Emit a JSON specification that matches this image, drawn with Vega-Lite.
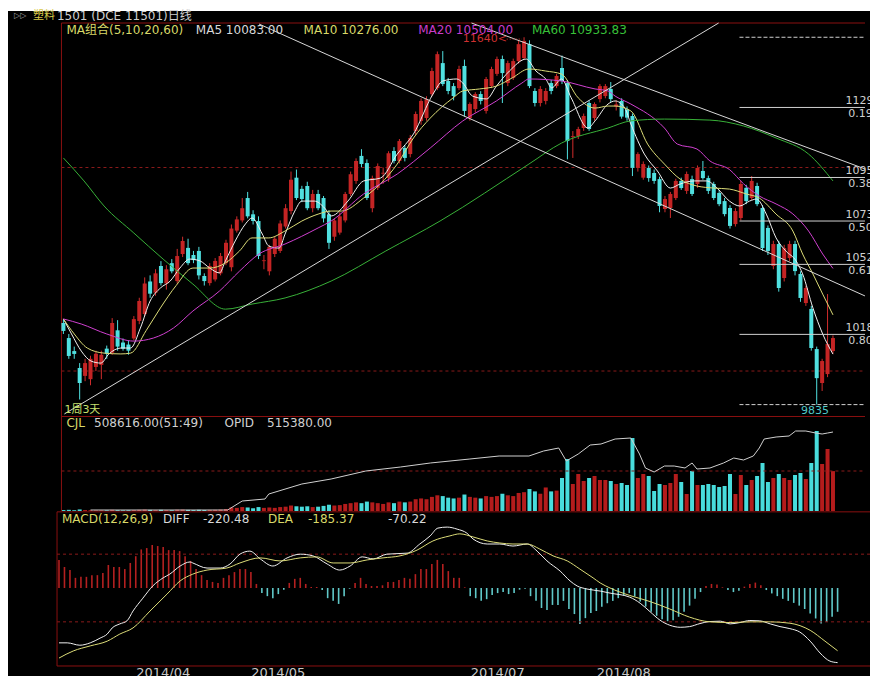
{
"$schema":"https://vega.github.io/schema/vega-lite/v6.json",
"background":"#ffffff",
"padding":{"left":8,"top":10,"right":0,"bottom":0},
"autosize":{"type":"pad"},
"spacing":0,
"bounds":"flush",
"config":{
 "view":{"stroke":null,"fill":"#000000"},
 "font":"DejaVu Sans, Noto Sans CJK SC",
 "axis":{"domain":false,"ticks":false,"tickSize":0,"grid":false,"labelColor":"#c8c8c8","labelFont":"DejaVu Sans, Noto Sans CJK SC","labelFontSize":11,"labelFlush":false},
 "text":{"font":"DejaVu Sans, Noto Sans CJK SC"}
},
"datasets":{
"k":[
{"i":0,"o":10236,"h":10255,"l":10182,"c":10197,"v":12000,"m":83},
{"i":1,"o":10162,"h":10182,"l":10060,"c":10074,"v":15000,"m":62},
{"i":2,"o":10098,"h":10120,"l":10060,"c":10084,"v":10000,"m":53},
{"i":3,"o":10015,"h":10039,"l":9860,"c":9941,"v":20000,"m":30},
{"i":4,"o":9976,"h":10060,"l":9950,"c":10039,"v":12000,"m":33},
{"i":5,"o":9960,"h":10075,"l":9930,"c":10060,"v":10000,"m":33},
{"i":6,"o":10020,"h":10100,"l":10000,"c":10085,"v":8000,"m":38},
{"i":7,"o":10030,"h":10100,"l":9960,"c":10080,"v":9000,"m":38},
{"i":8,"o":10110,"h":10125,"l":10060,"c":10085,"v":8000,"m":44},
{"i":9,"o":10090,"h":10260,"l":10080,"c":10236,"v":15000,"m":68},
{"i":10,"o":10200,"h":10250,"l":10100,"c":10120,"v":10000,"m":62},
{"i":11,"o":10140,"h":10160,"l":10100,"c":10110,"v":8000,"m":62},
{"i":12,"o":10130,"h":10150,"l":10080,"c":10100,"v":9000,"m":56},
{"i":13,"o":10160,"h":10270,"l":10150,"c":10255,"v":12000,"m":74},
{"i":14,"o":10246,"h":10360,"l":10230,"c":10344,"v":15000,"m":94},
{"i":15,"o":10280,"h":10460,"l":10270,"c":10430,"v":18000,"m":114},
{"i":16,"o":10440,"h":10470,"l":10360,"c":10380,"v":14000,"m":118},
{"i":17,"o":10385,"h":10500,"l":10370,"c":10480,"v":12000,"m":127},
{"i":18,"o":10516,"h":10540,"l":10420,"c":10432,"v":15000,"m":124},
{"i":19,"o":10430,"h":10520,"l":10400,"c":10500,"v":12000,"m":121},
{"i":20,"o":10530,"h":10550,"l":10480,"c":10490,"v":10000,"m":112},
{"i":21,"o":10442,"h":10600,"l":10430,"c":10565,"v":16000,"m":112},
{"i":22,"o":10575,"h":10660,"l":10560,"c":10639,"v":18000,"m":109},
{"i":23,"o":10605,"h":10650,"l":10520,"c":10530,"v":14000,"m":94},
{"i":24,"o":10570,"h":10590,"l":10530,"c":10545,"v":12000,"m":80},
{"i":25,"o":10590,"h":10610,"l":10450,"c":10470,"v":15000,"m":56},
{"i":26,"o":10467,"h":10480,"l":10420,"c":10442,"v":13000,"m":38},
{"i":27,"o":10432,"h":10530,"l":10420,"c":10516,"v":14000,"m":24},
{"i":28,"o":10450,"h":10555,"l":10440,"c":10541,"v":15000,"m":18},
{"i":29,"o":10480,"h":10580,"l":10470,"c":10565,"v":18000,"m":15},
{"i":30,"o":10530,"h":10645,"l":10520,"c":10630,"v":25000,"m":30},
{"i":31,"o":10510,"h":10720,"l":10490,"c":10700,"v":45000,"m":38},
{"i":32,"o":10690,"h":10760,"l":10680,"c":10745,"v":40000,"m":47},
{"i":33,"o":10740,"h":10850,"l":10730,"c":10800,"v":50000,"m":56},
{"i":34,"o":10850,"h":10880,"l":10750,"c":10760,"v":45000,"m":56},
{"i":35,"o":10770,"h":10790,"l":10720,"c":10737,"v":35000,"m":47},
{"i":36,"o":10737,"h":10760,"l":10550,"c":10565,"v":50000,"m":12},
{"i":37,"o":10540,"h":10570,"l":10500,"c":10544,"v":40000,"m":-15},
{"i":38,"o":10490,"h":10620,"l":10470,"c":10610,"v":45000,"m":-24},
{"i":39,"o":10575,"h":10660,"l":10560,"c":10650,"v":40000,"m":-30},
{"i":40,"o":10590,"h":10740,"l":10580,"c":10725,"v":50000,"m":-18},
{"i":41,"o":10710,"h":10820,"l":10700,"c":10800,"v":55000,"m":-5},
{"i":42,"o":10786,"h":10980,"l":10770,"c":10940,"v":70000,"m":15},
{"i":43,"o":10950,"h":10990,"l":10840,"c":10850,"v":60000,"m":27},
{"i":44,"o":10895,"h":10910,"l":10830,"c":10845,"v":55000,"m":30},
{"i":45,"o":10909,"h":10930,"l":10790,"c":10800,"v":60000,"m":12},
{"i":46,"o":10800,"h":10890,"l":10780,"c":10870,"v":50000,"m":3},
{"i":47,"o":10870,"h":10890,"l":10790,"c":10800,"v":55000,"m":3},
{"i":48,"o":10850,"h":10860,"l":10730,"c":10750,"v":65000,"m":-6},
{"i":49,"o":10770,"h":10790,"l":10600,"c":10630,"v":80000,"m":-30},
{"i":50,"o":10660,"h":10750,"l":10640,"c":10740,"v":70000,"m":-38},
{"i":51,"o":10680,"h":10780,"l":10670,"c":10760,"v":75000,"m":-47},
{"i":52,"o":10740,"h":10880,"l":10730,"c":10870,"v":90000,"m":-24},
{"i":53,"o":10870,"h":10980,"l":10860,"c":10967,"v":100000,"m":-2},
{"i":54,"o":10934,"h":11045,"l":10920,"c":11032,"v":110000,"m":15},
{"i":55,"o":11057,"h":11090,"l":11000,"c":11017,"v":100000,"m":30},
{"i":56,"o":11022,"h":11040,"l":10840,"c":10850,"v":120000,"m":12},
{"i":57,"o":10800,"h":10960,"l":10780,"c":10948,"v":110000,"m":6},
{"i":58,"o":10900,"h":11020,"l":10890,"c":11007,"v":100000,"m":6},
{"i":59,"o":10970,"h":11000,"l":10920,"c":10974,"v":90000,"m":8},
{"i":60,"o":10948,"h":11080,"l":10930,"c":11070,"v":110000,"m":18},
{"i":61,"o":11081,"h":11100,"l":11020,"c":11032,"v":100000,"m":18},
{"i":62,"o":11032,"h":11140,"l":11020,"c":11130,"v":120000,"m":24},
{"i":63,"o":11096,"h":11110,"l":11030,"c":11047,"v":110000,"m":30},
{"i":64,"o":11066,"h":11160,"l":11050,"c":11145,"v":120000,"m":27},
{"i":65,"o":11179,"h":11275,"l":11160,"c":11263,"v":150000,"m":41},
{"i":66,"o":11229,"h":11340,"l":11210,"c":11327,"v":160000,"m":56},
{"i":67,"o":11243,"h":11350,"l":11230,"c":11336,"v":150000,"m":56},
{"i":68,"o":11360,"h":11490,"l":11350,"c":11474,"v":180000,"m":71},
{"i":69,"o":11390,"h":11570,"l":11380,"c":11557,"v":200000,"m":83},
{"i":70,"o":11513,"h":11572,"l":11400,"c":11410,"v":190000,"m":71},
{"i":71,"o":11425,"h":11440,"l":11360,"c":11376,"v":170000,"m":50},
{"i":72,"o":11400,"h":11415,"l":11330,"c":11351,"v":160000,"m":30},
{"i":73,"o":11390,"h":11500,"l":11380,"c":11484,"v":170000,"m":30},
{"i":74,"o":11499,"h":11530,"l":11250,"c":11278,"v":210000,"m":2},
{"i":75,"o":11243,"h":11320,"l":11230,"c":11312,"v":180000,"m":-24},
{"i":76,"o":11287,"h":11370,"l":11270,"c":11361,"v":170000,"m":-30},
{"i":77,"o":11361,"h":11375,"l":11310,"c":11327,"v":160000,"m":-38},
{"i":78,"o":11278,"h":11445,"l":11265,"c":11435,"v":190000,"m":-33},
{"i":79,"o":11400,"h":11495,"l":11390,"c":11484,"v":180000,"m":-21},
{"i":80,"o":11460,"h":11545,"l":11450,"c":11533,"v":190000,"m":-15},
{"i":81,"o":11533,"h":11550,"l":11317,"c":11464,"v":220000,"m":-12},
{"i":82,"o":11415,"h":11525,"l":11400,"c":11513,"v":200000,"m":-18},
{"i":83,"o":11440,"h":11535,"l":11430,"c":11523,"v":190000,"m":-15},
{"i":84,"o":11523,"h":11625,"l":11510,"c":11606,"v":230000,"m":-5},
{"i":85,"o":11538,"h":11640,"l":11530,"c":11622,"v":240000,"m":-2},
{"i":86,"o":11607,"h":11625,"l":11390,"c":11400,"v":280000,"m":-24},
{"i":87,"o":11376,"h":11390,"l":11300,"c":11317,"v":250000,"m":-38},
{"i":88,"o":11317,"h":11400,"l":11300,"c":11386,"v":220000,"m":-59},
{"i":89,"o":11327,"h":11390,"l":11310,"c":11376,"v":300000,"m":-65},
{"i":90,"o":11415,"h":11430,"l":11360,"c":11376,"v":250000,"m":-50},
{"i":91,"o":11400,"h":11460,"l":11390,"c":11450,"v":260000,"m":-50},
{"i":92,"o":11489,"h":11550,"l":11410,"c":11425,"v":420750,"m":-38},
{"i":93,"o":11415,"h":11430,"l":11040,"c":11130,"v":663000,"m":-62},
{"i":94,"o":11150,"h":11179,"l":11047,"c":11154,"v":344250,"m":-77},
{"i":95,"o":11155,"h":11200,"l":11140,"c":11189,"v":471750,"m":-106},
{"i":96,"o":11194,"h":11265,"l":11180,"c":11253,"v":382500,"m":-89},
{"i":97,"o":11317,"h":11330,"l":11180,"c":11189,"v":420750,"m":-74},
{"i":98,"o":11243,"h":11320,"l":11230,"c":11312,"v":446250,"m":-68},
{"i":99,"o":11336,"h":11410,"l":11320,"c":11400,"v":395250,"m":-55},
{"i":100,"o":11351,"h":11410,"l":11340,"c":11400,"v":395250,"m":-45},
{"i":101,"o":11386,"h":11420,"l":11320,"c":11336,"v":382500,"m":-38},
{"i":102,"o":11300,"h":11330,"l":11280,"c":11310,"v":344250,"m":-30},
{"i":103,"o":11327,"h":11340,"l":11240,"c":11250,"v":357000,"m":-22},
{"i":104,"o":11285,"h":11300,"l":11230,"c":11245,"v":331500,"m":-15},
{"i":105,"o":11253,"h":11265,"l":10958,"c":10998,"v":930750,"m":-25},
{"i":106,"o":10998,"h":11075,"l":10980,"c":11066,"v":420750,"m":-40},
{"i":107,"o":10950,"h":11030,"l":10940,"c":11017,"v":471750,"m":-55},
{"i":108,"o":10998,"h":11010,"l":10930,"c":10948,"v":446250,"m":-70},
{"i":109,"o":10973,"h":10990,"l":10920,"c":10934,"v":255000,"m":-82},
{"i":110,"o":10943,"h":10955,"l":10780,"c":10811,"v":344250,"m":-92},
{"i":111,"o":10796,"h":10860,"l":10780,"c":10845,"v":331500,"m":-98},
{"i":112,"o":10801,"h":10880,"l":10752,"c":10870,"v":357000,"m":-95},
{"i":113,"o":10850,"h":10945,"l":10840,"c":10934,"v":471750,"m":-85},
{"i":114,"o":10934,"h":10950,"l":10890,"c":10899,"v":369750,"m":-70},
{"i":115,"o":10885,"h":10980,"l":10870,"c":10968,"v":216750,"m":-52},
{"i":116,"o":10943,"h":10960,"l":10860,"c":10870,"v":510000,"m":-32},
{"i":117,"o":10919,"h":11010,"l":10900,"c":10998,"v":331500,"m":-12},
{"i":118,"o":10983,"h":11032,"l":10940,"c":10948,"v":331500,"m":6},
{"i":119,"o":10948,"h":10960,"l":10870,"c":10885,"v":344250,"m":12},
{"i":120,"o":10919,"h":10930,"l":10840,"c":10850,"v":331500,"m":10},
{"i":121,"o":10875,"h":10890,"l":10810,"c":10820,"v":306000,"m":2},
{"i":122,"o":10835,"h":10850,"l":10760,"c":10771,"v":318750,"m":-6},
{"i":123,"o":10801,"h":10815,"l":10700,"c":10713,"v":471750,"m":-12},
{"i":124,"o":10722,"h":10800,"l":10710,"c":10786,"v":216750,"m":-8},
{"i":125,"o":10752,"h":10935,"l":10740,"c":10919,"v":459000,"m":4},
{"i":126,"o":10900,"h":10915,"l":10820,"c":10835,"v":331500,"m":12},
{"i":127,"o":10850,"h":10958,"l":10840,"c":10934,"v":395250,"m":16},
{"i":128,"o":10909,"h":10925,"l":10810,"c":10820,"v":446250,"m":8},
{"i":129,"o":10801,"h":10815,"l":10590,"c":10604,"v":612000,"m":-6},
{"i":130,"o":10703,"h":10715,"l":10570,"c":10590,"v":369750,"m":-16},
{"i":131,"o":10516,"h":10640,"l":10500,"c":10624,"v":420750,"m":-24},
{"i":132,"o":10624,"h":10640,"l":10390,"c":10408,"v":471750,"m":-32},
{"i":133,"o":10457,"h":10620,"l":10440,"c":10604,"v":420750,"m":-38},
{"i":134,"o":10555,"h":10640,"l":10540,"c":10624,"v":395250,"m":-44},
{"i":135,"o":10624,"h":10640,"l":10470,"c":10491,"v":459000,"m":-52},
{"i":136,"o":10477,"h":10490,"l":10340,"c":10359,"v":484500,"m":-62},
{"i":137,"o":10334,"h":10420,"l":10320,"c":10408,"v":408000,"m":-75},
{"i":138,"o":10305,"h":10320,"l":10100,"c":10113,"v":612000,"m":-90},
{"i":139,"o":10108,"h":10120,"l":9835,"c":9965,"v":1020000,"m":-105},
{"i":140,"o":9941,"h":10060,"l":9902,"c":10049,"v":599250,"m":-100},
{"i":141,"o":9985,"h":10378,"l":9970,"c":10133,"v":790500,"m":-85},
{"i":142,"o":10098,"h":10175,"l":10085,"c":10162,"v":508616,"m":-70.22}
],
"ma":[
{"s":"MA5","i":0,"p":10256},{"s":"MA5","i":1.5,"p":10182},{"s":"MA5","i":3.3,"p":10098},{"s":"MA5","i":5.1,"p":10049},{"s":"MA5","i":6.9,"p":10039},{"s":"MA5","i":8.4,"p":10084},{"s":"MA5","i":10.6,"p":10113},{"s":"MA5","i":12.4,"p":10113},{"s":"MA5","i":14.2,"p":10211},{"s":"MA5","i":16,"p":10344},{"s":"MA5","i":17.9,"p":10408},{"s":"MA5","i":19.7,"p":10442},{"s":"MA5","i":21.5,"p":10506},{"s":"MA5","i":23.3,"p":10550},{"s":"MA5","i":25.2,"p":10541},{"s":"MA5","i":27,"p":10506},{"s":"MA5","i":28.8,"p":10482},{"s":"MA5","i":29.9,"p":10541},{"s":"MA5","i":31.7,"p":10639},{"s":"MA5","i":33.6,"p":10723},{"s":"MA5","i":34.8,"p":10752},{"s":"MA5","i":36.7,"p":10673},{"s":"MA5","i":37.9,"p":10614},{"s":"MA5","i":39.8,"p":10604},{"s":"MA5","i":40.9,"p":10673},{"s":"MA5","i":42.7,"p":10786},{"s":"MA5","i":44,"p":10835},{"s":"MA5","i":46.3,"p":10835},{"s":"MA5","i":48.2,"p":10801},{"s":"MA5","i":49.4,"p":10762},{"s":"MA5","i":52.5,"p":10835},{"s":"MA5","i":55.4,"p":10934},{"s":"MA5","i":58.5,"p":10948},{"s":"MA5","i":61.6,"p":11066},{"s":"MA5","i":64.6,"p":11165},{"s":"MA5","i":68.2,"p":11361},{"s":"MA5","i":70,"p":11425},{"s":"MA5","i":72.6,"p":11435},{"s":"MA5","i":73.7,"p":11415},{"s":"MA5","i":75.5,"p":11351},{"s":"MA5","i":78.1,"p":11337},{"s":"MA5","i":79.9,"p":11400},{"s":"MA5","i":82.3,"p":11474},{"s":"MA5","i":85.4,"p":11533},{"s":"MA5","i":87.2,"p":11474},{"s":"MA5","i":89,"p":11435},{"s":"MA5","i":90.1,"p":11391},{"s":"MA5","i":91.9,"p":11435},{"s":"MA5","i":93.7,"p":11342},{"s":"MA5","i":96.8,"p":11194},{"s":"MA5","i":98.1,"p":11229},{"s":"MA5","i":100.5,"p":11312},{"s":"MA5","i":101.8,"p":11327},{"s":"MA5","i":103.6,"p":11292},{"s":"MA5","i":104.7,"p":11214},{"s":"MA5","i":107.2,"p":11066},{"s":"MA5","i":109.6,"p":10983},{"s":"MA5","i":112,"p":10899},{"s":"MA5","i":113.8,"p":10919},{"s":"MA5","i":116.4,"p":10934},{"s":"MA5","i":118.7,"p":10934},{"s":"MA5","i":120.6,"p":10899},{"s":"MA5","i":122.9,"p":10835},{"s":"MA5","i":124.8,"p":10811},{"s":"MA5","i":126.6,"p":10835},{"s":"MA5","i":127.9,"p":10845},{"s":"MA5","i":129.7,"p":10771},{"s":"MA5","i":131.5,"p":10654},{"s":"MA5","i":133.3,"p":10590},{"s":"MA5","i":135.2,"p":10541},{"s":"MA5","i":136.4,"p":10477},{"s":"MA5","i":138.3,"p":10310},{"s":"MA5","i":140.1,"p":10182},{"s":"MA5","i":142,"p":10083},
{"s":"MA10","i":0,"p":10256},{"s":"MA10","i":2,"p":10182},{"s":"MA10","i":4.4,"p":10113},{"s":"MA10","i":7.5,"p":10088},{"s":"MA10","i":10.6,"p":10084},{"s":"MA10","i":12.4,"p":10088},{"s":"MA10","i":15.3,"p":10200},{"s":"MA10","i":17.9,"p":10310},{"s":"MA10","i":20.8,"p":10420},{"s":"MA10","i":23.9,"p":10506},{"s":"MA10","i":27,"p":10506},{"s":"MA10","i":29.9,"p":10531},{"s":"MA10","i":32.5,"p":10590},{"s":"MA10","i":34.8,"p":10654},{"s":"MA10","i":37.9,"p":10654},{"s":"MA10","i":40.9,"p":10688},{"s":"MA10","i":44,"p":10737},{"s":"MA10","i":47,"p":10771},{"s":"MA10","i":49.4,"p":10786},{"s":"MA10","i":51.3,"p":10786},{"s":"MA10","i":55.4,"p":10850},{"s":"MA10","i":61.6,"p":11017},{"s":"MA10","i":64.6,"p":11145},{"s":"MA10","i":67.7,"p":11243},{"s":"MA10","i":71.9,"p":11342},{"s":"MA10","i":73.7,"p":11376},{"s":"MA10","i":76.8,"p":11386},{"s":"MA10","i":79.9,"p":11400},{"s":"MA10","i":82.8,"p":11440},{"s":"MA10","i":85.9,"p":11484},{"s":"MA10","i":89,"p":11474},{"s":"MA10","i":91.9,"p":11459},{"s":"MA10","i":95,"p":11342},{"s":"MA10","i":98.1,"p":11292},{"s":"MA10","i":100.5,"p":11302},{"s":"MA10","i":101.8,"p":11302},{"s":"MA10","i":104.7,"p":11278},{"s":"MA10","i":107.8,"p":11115},{"s":"MA10","i":110.9,"p":11017},{"s":"MA10","i":113.8,"p":10943},{"s":"MA10","i":116.9,"p":10909},{"s":"MA10","i":120,"p":10899},{"s":"MA10","i":122.9,"p":10894},{"s":"MA10","i":126,"p":10870},{"s":"MA10","i":128.4,"p":10850},{"s":"MA10","i":131.5,"p":10771},{"s":"MA10","i":134.6,"p":10688},{"s":"MA10","i":136.4,"p":10575},{"s":"MA10","i":138.3,"p":10477},{"s":"MA10","i":140.1,"p":10378},{"s":"MA10","i":142,"p":10276},
{"s":"MA20","i":0,"p":10256},{"s":"MA20","i":3.3,"p":10231},{"s":"MA20","i":8,"p":10182},{"s":"MA20","i":13,"p":10147},{"s":"MA20","i":16.6,"p":10162},{"s":"MA20","i":20.3,"p":10211},{"s":"MA20","i":23.9,"p":10295},{"s":"MA20","i":28.8,"p":10393},{"s":"MA20","i":32.5,"p":10491},{"s":"MA20","i":36.1,"p":10575},{"s":"MA20","i":40.9,"p":10624},{"s":"MA20","i":47,"p":10703},{"s":"MA20","i":49.4,"p":10737},{"s":"MA20","i":55.4,"p":10870},{"s":"MA20","i":61.6,"p":10968},{"s":"MA20","i":67.7,"p":11096},{"s":"MA20","i":73.7,"p":11229},{"s":"MA20","i":79.9,"p":11327},{"s":"MA20","i":84.6,"p":11415},{"s":"MA20","i":85.9,"p":11435},{"s":"MA20","i":91.9,"p":11425},{"s":"MA20","i":98.1,"p":11386},{"s":"MA20","i":100.5,"p":11376},{"s":"MA20","i":101.8,"p":11351},{"s":"MA20","i":104.7,"p":11312},{"s":"MA20","i":110.9,"p":11194},{"s":"MA20","i":113.3,"p":11115},{"s":"MA20","i":116.9,"p":11091},{"s":"MA20","i":119.3,"p":11032},{"s":"MA20","i":122.9,"p":10990},{"s":"MA20","i":125.5,"p":10920},{"s":"MA20","i":128.4,"p":10860},{"s":"MA20","i":131.5,"p":10821},{"s":"MA20","i":134.6,"p":10772},{"s":"MA20","i":137.5,"p":10688},{"s":"MA20","i":140.1,"p":10575},{"s":"MA20","i":142,"p":10504},
{"s":"MA60","i":0,"p":11047},{"s":"MA60","i":3.8,"p":10934},{"s":"MA60","i":7.5,"p":10811},{"s":"MA60","i":13,"p":10678},{"s":"MA60","i":18.4,"p":10550},{"s":"MA60","i":23.9,"p":10427},{"s":"MA60","i":29.9,"p":10304},{"s":"MA60","i":34.8,"p":10329},{"s":"MA60","i":40.9,"p":10359},{"s":"MA60","i":49.4,"p":10442},{"s":"MA60","i":59.5,"p":10590},{"s":"MA60","i":69.5,"p":10737},{"s":"MA60","i":85.9,"p":11017},{"s":"MA60","i":91.9,"p":11120},{"s":"MA60","i":100.5,"p":11194},{"s":"MA60","i":104.7,"p":11229},{"s":"MA60","i":110.9,"p":11238},{"s":"MA60","i":119.3,"p":11233},{"s":"MA60","i":125.5,"p":11204},{"s":"MA60","i":131.5,"p":11145},{"s":"MA60","i":137.5,"p":11066},{"s":"MA60","i":142,"p":10934}
],
"tl":[
{"t":"A","i":36.1,"p":11705},{"t":"A","i":147.9,"p":10369},
{"t":"B","i":75.3,"p":11710},{"t":"B","i":147.9,"p":10993},
{"t":"C","i":0.18,"p":9789},{"t":"C","i":120.9,"p":11710}
],
"fib":[
{"r":"0.191","p":11295},{"r":"0.382","p":10951},{"r":"0.500","p":10737},{"r":"0.618","p":10524},{"r":"0.809","p":10180}
],
"fibe":[{"p":11640},{"p":9835}],
"oi":[
{"i":5,"oi":6524},{"i":30.3,"oi":6524},{"i":30.6,"oi":13048},{"i":33,"oi":65240},{"i":37.2,"oi":78288},{"i":37.9,"oi":110908},{"i":44,"oi":176148},{"i":49.4,"oi":208768},{"i":55.8,"oi":260960},{"i":62.2,"oi":287056},{"i":67.7,"oi":313152},{"i":75,"oi":339248},{"i":80.4,"oi":358820},{"i":85.9,"oi":358820},{"i":88.6,"oi":391440},{"i":91.4,"oi":411012},{"i":92.8,"oi":326200},{"i":95,"oi":371868},{"i":97.2,"oi":430584},{"i":99.2,"oi":437108},{"i":101.8,"oi":469728},{"i":104.7,"oi":476252},{"i":106.3,"oi":371868},{"i":107.4,"oi":280532},{"i":109,"oi":254436},{"i":110.9,"oi":293580},{"i":112.7,"oi":293580},{"i":114.7,"oi":280532},{"i":116,"oi":313152},{"i":116.9,"oi":274008},{"i":119.3,"oi":280532},{"i":121.8,"oi":313152},{"i":123.7,"oi":345772},{"i":125.5,"oi":332724},{"i":127.3,"oi":358820},{"i":128.4,"oi":411012},{"i":129.3,"oi":469728},{"i":131.5,"oi":482776},{"i":133.9,"oi":489300},{"i":135.1,"oi":521920},{"i":137,"oi":521920},{"i":138.8,"oi":508872},{"i":140,"oi":502348},{"i":141,"oi":508872},{"i":142,"oi":515380}
],
"ml":[
{"s":"DIFF","i":0,"v":-162},{"s":"DIFF","i":1.5,"v":-162},{"s":"DIFF","i":3.8,"v":-169},{"s":"DIFF","i":5.7,"v":-162},{"s":"DIFF","i":7.5,"v":-148},{"s":"DIFF","i":8.8,"v":-136},{"s":"DIFF","i":9.7,"v":-118},{"s":"DIFF","i":11.1,"v":-106},{"s":"DIFF","i":12.4,"v":-97},{"s":"DIFF","i":13.5,"v":-68},{"s":"DIFF","i":15.3,"v":-30},{"s":"DIFF","i":17.1,"v":6},{"s":"DIFF","i":19,"v":30},{"s":"DIFF","i":20.2,"v":41},{"s":"DIFF","i":22.1,"v":65},{"s":"DIFF","i":23.9,"v":77},{"s":"DIFF","i":24.4,"v":74},{"s":"DIFF","i":27,"v":59},{"s":"DIFF","i":29.4,"v":59},{"s":"DIFF","i":31.2,"v":71},{"s":"DIFF","i":33,"v":100},{"s":"DIFF","i":34.8,"v":109},{"s":"DIFF","i":36.7,"v":86},{"s":"DIFF","i":39,"v":65},{"s":"DIFF","i":41.6,"v":89},{"s":"DIFF","i":44,"v":100},{"s":"DIFF","i":46.3,"v":95},{"s":"DIFF","i":48.9,"v":71},{"s":"DIFF","i":51.2,"v":53},{"s":"DIFF","i":53.1,"v":65},{"s":"DIFF","i":55.3,"v":92},{"s":"DIFF","i":57.3,"v":86},{"s":"DIFF","i":59.8,"v":100},{"s":"DIFF","i":63.5,"v":103},{"s":"DIFF","i":65.8,"v":130},{"s":"DIFF","i":67.7,"v":154},{"s":"DIFF","i":69.1,"v":177},{"s":"DIFF","i":70.8,"v":180},{"s":"DIFF","i":72.6,"v":174},{"s":"DIFF","i":74.4,"v":162},{"s":"DIFF","i":75.5,"v":145},{"s":"DIFF","i":78.1,"v":130},{"s":"DIFF","i":80.4,"v":130},{"s":"DIFF","i":82.8,"v":124},{"s":"DIFF","i":85.4,"v":130},{"s":"DIFF","i":87.2,"v":109},{"s":"DIFF","i":89,"v":80},{"s":"DIFF","i":91.4,"v":50},{"s":"DIFF","i":93.2,"v":21},{"s":"DIFF","i":94.5,"v":6},{"s":"DIFF","i":96.3,"v":-3},{"s":"DIFF","i":98.7,"v":-9},{"s":"DIFF","i":100.5,"v":-15},{"s":"DIFF","i":104.1,"v":-27},{"s":"DIFF","i":106,"v":-45},{"s":"DIFF","i":107.8,"v":-70},{"s":"DIFF","i":109.6,"v":-95},{"s":"DIFF","i":111.4,"v":-110},{"s":"DIFF","i":113.3,"v":-116},{"s":"DIFF","i":115,"v":-114},{"s":"DIFF","i":116.9,"v":-105},{"s":"DIFF","i":118.7,"v":-99},{"s":"DIFF","i":120.6,"v":-98},{"s":"DIFF","i":122.4,"v":-106},{"s":"DIFF","i":124.2,"v":-102},{"s":"DIFF","i":126,"v":-96},{"s":"DIFF","i":127.8,"v":-97},{"s":"DIFF","i":129.7,"v":-106},{"s":"DIFF","i":131.5,"v":-114},{"s":"DIFF","i":133.3,"v":-120},{"s":"DIFF","i":135.1,"v":-130},{"s":"DIFF","i":137,"v":-157},{"s":"DIFF","i":138.8,"v":-192},{"s":"DIFF","i":140.6,"v":-216},{"s":"DIFF","i":142,"v":-220.48},
{"s":"DEA","i":0,"v":-207},{"s":"DEA","i":2.6,"v":-186},{"s":"DEA","i":5.7,"v":-171},{"s":"DEA","i":8.8,"v":-157},{"s":"DEA","i":11.1,"v":-136},{"s":"DEA","i":13.5,"v":-118},{"s":"DEA","i":16.6,"v":-68},{"s":"DEA","i":19.7,"v":-18},{"s":"DEA","i":22.1,"v":21},{"s":"DEA","i":24.4,"v":41},{"s":"DEA","i":27,"v":53},{"s":"DEA","i":30.6,"v":59},{"s":"DEA","i":33,"v":74},{"s":"DEA","i":36.7,"v":89},{"s":"DEA","i":40.3,"v":80},{"s":"DEA","i":44,"v":89},{"s":"DEA","i":47,"v":92},{"s":"DEA","i":50,"v":74},{"s":"DEA","i":53.1,"v":74},{"s":"DEA","i":56.2,"v":83},{"s":"DEA","i":59.1,"v":89},{"s":"DEA","i":62.2,"v":95},{"s":"DEA","i":65.3,"v":112},{"s":"DEA","i":68.2,"v":139},{"s":"DEA","i":71.3,"v":154},{"s":"DEA","i":73.1,"v":160},{"s":"DEA","i":75.5,"v":151},{"s":"DEA","i":78.1,"v":139},{"s":"DEA","i":80.4,"v":133},{"s":"DEA","i":82.8,"v":130},{"s":"DEA","i":85.4,"v":130},{"s":"DEA","i":87.7,"v":115},{"s":"DEA","i":90.1,"v":95},{"s":"DEA","i":92.7,"v":80},{"s":"DEA","i":95,"v":56},{"s":"DEA","i":97.4,"v":30},{"s":"DEA","i":98.7,"v":15},{"s":"DEA","i":100.5,"v":0},{"s":"DEA","i":104.1,"v":-22},{"s":"DEA","i":107.8,"v":-40},{"s":"DEA","i":111.4,"v":-62},{"s":"DEA","i":115,"v":-86},{"s":"DEA","i":118.7,"v":-100},{"s":"DEA","i":122.4,"v":-102},{"s":"DEA","i":126,"v":-100},{"s":"DEA","i":129.7,"v":-100},{"s":"DEA","i":133.3,"v":-104},{"s":"DEA","i":137,"v":-125},{"s":"DEA","i":139.7,"v":-157},{"s":"DEA","i":142,"v":-185.37}
],
"months":[{"d":"2014/04","i":19},{"d":"2014/05","i":40},{"d":"2014/07","i":80},{"d":"2014/08","i":103}]
},
"resolve":{"scale":{"x":"independent"}},
"vconcat":[
{
 "width":862,"height":405,
 "layer":[
  {"data":{"name":"k"},"mark":{"type":"rule","strokeWidth":1},
   "encoding":{
    "x":{"field":"i","type":"quantitative","scale":{"domain":[-9.3,147.91],"nice":false,"zero":false},"axis":null},
    "y":{"field":"l","type":"quantitative","scale":{"domain":[9779,11769],"nice":false,"zero":false},"axis":{"orient":"left","offset":-46,"values":[10000,11000],"format":"d","labelPadding":2,"title":null}},
    "y2":{"field":"h"},
    "color":{"condition":{"test":"datum.c >= datum.o","value":"#d02c2c"},"value":"#50e0e0"}
   }},
  {"data":{"values":[{"g":10000},{"g":11000}]},"mark":{"type":"rule","color":"#8a1a1a","strokeDash":[3,3]},
   "encoding":{"x":{"datum":-0.36,"type":"quantitative","axis":null},"x2":{"datum":147.91},"y":{"field":"g","type":"quantitative","axis":null}}},
  {"data":{"values":[{}]},"mark":{"type":"rule","color":"#8a1010"},
   "encoding":{"x":{"datum":-0.36,"type":"quantitative","axis":null},"x2":{"datum":147.91},"y":{"datum":11710,"type":"quantitative","axis":null}}},
  {"data":{"values":[{}]},"mark":{"type":"rule","color":"#8a1010"},
   "encoding":{"x":{"datum":-0.36,"type":"quantitative","axis":null},"y":{"datum":11710,"type":"quantitative","axis":null},"y2":{"datum":9779}}},
  {"data":{"name":"k"},"mark":{"type":"bar","width":4},
   "encoding":{
    "x":{"field":"i","type":"quantitative","axis":null},
    "y":{"field":"o","type":"quantitative","axis":null},
    "y2":{"field":"c"},
    "color":{"condition":{"test":"datum.c >= datum.o","value":"#c42424"},"value":"#50e0e0"}
   }},
  {"data":{"name":"ma"},"mark":{"type":"line","strokeWidth":1,"interpolate":"monotone"},
   "encoding":{
    "x":{"field":"i","type":"quantitative","axis":null},
    "y":{"field":"p","type":"quantitative","axis":null},
    "color":{"field":"s","type":"nominal","scale":{"domain":["MA5","MA10","MA20","MA60"],"range":["#f0f0f0","#dcdc78","#d040d0","#38b038"]},"legend":null}
   }},
  {"data":{"name":"tl"},"mark":{"type":"line","strokeWidth":1,"color":"#d8d8d8","clip":true},
   "encoding":{
    "x":{"field":"i","type":"quantitative","axis":null},
    "y":{"field":"p","type":"quantitative","axis":null},
    "detail":{"field":"t"}
   }},
  {"data":{"name":"fib"},"mark":{"type":"rule","color":"#d0d0d0"},
   "encoding":{"x":{"datum":124.75,"type":"quantitative","axis":null},"x2":{"datum":147.91},"y":{"field":"p","type":"quantitative","axis":null}}},
  {"data":{"name":"fibe"},"mark":{"type":"rule","color":"#d0d0d0","strokeDash":[4,2]},
   "encoding":{"x":{"datum":124.75,"type":"quantitative","axis":null},"x2":{"datum":147.91},"y":{"field":"p","type":"quantitative","axis":null}}},
  {"data":{"name":"fib"},"mark":{"type":"text","align":"left","baseline":"middle","dy":-6,"fontSize":11,"color":"#d0d0d0","clip":true},
   "encoding":{"x":{"datum":144.3,"type":"quantitative","axis":null},"y":{"field":"p","type":"quantitative","axis":null},"text":{"field":"p","type":"quantitative","format":"d"}}},
  {"data":{"name":"fib"},"mark":{"type":"text","align":"left","baseline":"middle","dy":7,"fontSize":11,"color":"#d0d0d0","clip":true},
   "encoding":{"x":{"datum":144.8,"type":"quantitative","axis":null},"y":{"field":"p","type":"quantitative","axis":null},"text":{"field":"r","type":"nominal"}}},
  {"data":{"values":[{}]},"mark":{"type":"rule","color":"#d03030","strokeDash":[1,2]},
   "encoding":{"x":{"datum":81.8,"type":"quantitative","axis":null},"x2":{"datum":84.6},"y":{"datum":11631,"type":"quantitative","axis":null}}},
  {"data":{"values":[{}]},"mark":{"type":"text","text":"11640<","align":"left","baseline":"middle","fontSize":11,"color":"#d03030"},
   "encoding":{"x":{"datum":73.68,"type":"quantitative","axis":null},"y":{"datum":11631,"type":"quantitative","axis":null}}},
  {"data":{"values":[{}]},"mark":{"type":"text","text":"9835","align":"center","baseline":"middle","fontSize":11,"color":"#50c8c8"},
   "encoding":{"x":{"datum":138.7,"type":"quantitative","axis":null},"y":{"datum":9806,"type":"quantitative","axis":null}}},
  {"data":{"values":[{}]},"mark":{"type":"text","text":"1周3天","align":"left","baseline":"middle","fontSize":11,"color":"#c8e070"},
   "encoding":{"x":{"datum":0.18,"type":"quantitative","axis":null},"y":{"datum":9808,"type":"quantitative","axis":null}}},
  {"data":{"values":[{}]},"mark":{"type":"text","text":"▷▷","align":"left","baseline":"middle","fontSize":8,"color":"#a0a0a0"},
   "encoding":{"x":{"datum":-9.1,"type":"quantitative","axis":null},"y":{"datum":11744,"type":"quantitative","axis":null}}},
  {"data":{"values":[{}]},"mark":{"type":"text","text":"塑料","align":"left","baseline":"middle","fontSize":11,"color":"#d8c848"},
   "encoding":{"x":{"datum":-5.6,"type":"quantitative","axis":null},"y":{"datum":11744,"type":"quantitative","axis":null}}},
  {"data":{"values":[{}]},"mark":{"type":"text","text":"1501 (DCE 11501)日线","align":"left","baseline":"middle","fontSize":12,"color":"#d0d0d0"},
   "encoding":{"x":{"datum":-1.2,"type":"quantitative","axis":null},"y":{"datum":11744,"type":"quantitative","axis":null}}},
  {"data":{"values":[{}]},"mark":{"type":"text","text":"MA组合(5,10,20,60)","align":"left","baseline":"middle","fontSize":12,"color":"#d8d868"},
   "encoding":{"x":{"datum":0.55,"type":"quantitative","axis":null},"y":{"datum":11676,"type":"quantitative","axis":null}}},
  {"data":{"values":[{}]},"mark":{"type":"text","text":"MA5 10083.00","align":"left","baseline":"middle","fontSize":12,"color":"#d8d8d8"},
   "encoding":{"x":{"datum":24.44,"type":"quantitative","axis":null},"y":{"datum":11676,"type":"quantitative","axis":null}}},
  {"data":{"values":[{}]},"mark":{"type":"text","text":"MA10 10276.00","align":"left","baseline":"middle","fontSize":12,"color":"#d8d868"},
   "encoding":{"x":{"datum":44.32,"type":"quantitative","axis":null},"y":{"datum":11676,"type":"quantitative","axis":null}}},
  {"data":{"values":[{}]},"mark":{"type":"text","text":"MA20 10504.00","align":"left","baseline":"middle","fontSize":12,"color":"#c83cc8"},
   "encoding":{"x":{"datum":65.47,"type":"quantitative","axis":null},"y":{"datum":11676,"type":"quantitative","axis":null}}},
  {"data":{"values":[{}]},"mark":{"type":"text","text":"MA60 10933.83","align":"left","baseline":"middle","fontSize":12,"color":"#38c038"},
   "encoding":{"x":{"datum":86.45,"type":"quantitative","axis":null},"y":{"datum":11676,"type":"quantitative","axis":null}}}
 ]
},
{
 "width":862,"height":95,
 "resolve":{"scale":{"y":"independent"}},
 "layer":[
  {"layer":[
   {"data":{"name":"k"},"mark":{"type":"bar","width":4},
    "encoding":{
     "x":{"field":"i","type":"quantitative","scale":{"domain":[-9.3,147.91],"nice":false,"zero":false},"axis":null},
     "y":{"field":"v","type":"quantitative","scale":{"domain":[0,1211250],"nice":false},"axis":{"orient":"left","offset":-46,"values":[510000],"labelExpr":"'51万'","labelPadding":2,"title":null}},
     "color":{"condition":{"test":"datum.c >= datum.o","value":"#b41c1c"},"value":"#48dcdc"}
    }},
   {"data":{"values":[{}]},"mark":{"type":"rule","color":"#8a1a1a","strokeDash":[3,3]},
    "encoding":{"x":{"datum":-0.36,"type":"quantitative","axis":null},"x2":{"datum":147.91},"y":{"datum":510000,"type":"quantitative","axis":null}}},
   {"data":{"values":[{}]},"mark":{"type":"rule","color":"#8a1010"},
    "encoding":{"x":{"datum":-0.36,"type":"quantitative","axis":null},"x2":{"datum":147.91},"y":{"datum":1205000,"type":"quantitative","axis":null}}},
   {"data":{"values":[{}]},"mark":{"type":"rule","color":"#8a1010"},
    "encoding":{"x":{"datum":-0.36,"type":"quantitative","axis":null}}},
   {"data":{"values":[{}]},"mark":{"type":"text","text":"CJL","align":"left","baseline":"middle","fontSize":12,"color":"#d8d868"},
    "encoding":{"x":{"datum":0.55,"type":"quantitative","axis":null},"y":{"datum":1122000,"type":"quantitative","axis":null}}},
   {"data":{"values":[{}]},"mark":{"type":"text","text":"508616.00(51:49)","align":"left","baseline":"middle","fontSize":12,"color":"#d0d0d0"},
    "encoding":{"x":{"datum":5.65,"type":"quantitative","axis":null},"y":{"datum":1122000,"type":"quantitative","axis":null}}},
   {"data":{"values":[{}]},"mark":{"type":"text","text":"OPID","align":"left","baseline":"middle","fontSize":12,"color":"#d0d0d0"},
    "encoding":{"x":{"datum":29.73,"type":"quantitative","axis":null},"y":{"datum":1122000,"type":"quantitative","axis":null}}},
   {"data":{"values":[{}]},"mark":{"type":"text","text":"515380.00","align":"left","baseline":"middle","fontSize":12,"color":"#d0d0d0"},
    "encoding":{"x":{"datum":37.57,"type":"quantitative","axis":null},"y":{"datum":1122000,"type":"quantitative","axis":null}}}
  ]},
  {"data":{"name":"oi"},"mark":{"type":"line","color":"#d0d0d0","strokeWidth":1},
   "encoding":{
    "x":{"field":"i","type":"quantitative","scale":{"domain":[-9.3,147.91],"nice":false,"zero":false},"axis":null},
    "y":{"field":"oi","type":"quantitative","scale":{"domain":[0,619780],"nice":false},"axis":null}
   }}
 ]
},
{
 "width":862,"height":166,
 "layer":[
  {"data":{"name":"k"},"mark":{"type":"rule","strokeWidth":1.6},
   "encoding":{
    "x":{"field":"i","type":"quantitative","scale":{"domain":[-9.3,147.91],"nice":false,"zero":false},"axis":null},
    "y":{"field":"m","type":"quantitative","scale":{"domain":[-262.9,227.5],"nice":false,"zero":false},"axis":{"orient":"left","offset":-46,"values":[100,0,-100],"labelExpr":"datum.value == 100 ? '100' : datum.value == 0 ? '0' : '-100'","labelPadding":2,"title":null}},
    "y2":{"datum":0},
    "color":{"condition":{"test":"datum.m >= 0","value":"#b42020"},"value":"#60c8c8"}
   }},
  {"data":{"values":[{"g":100},{"g":-100}]},"mark":{"type":"rule","color":"#8a1a1a","strokeDash":[3,3]},
   "encoding":{"x":{"datum":-0.36,"type":"quantitative","axis":null},"x2":{"datum":147.91},"y":{"field":"g","type":"quantitative","axis":null}}},
  {"data":{"values":[{"g":225},{"g":-230.4}]},"mark":{"type":"rule","color":"#8a1010"},
   "encoding":{"x":{"datum":-0.36,"type":"quantitative","axis":null},"x2":{"datum":147.91},"y":{"field":"g","type":"quantitative","axis":null}}},
  {"data":{"values":[{}]},"mark":{"type":"rule","color":"#8a1010"},
   "encoding":{"x":{"datum":-0.36,"type":"quantitative","axis":null},"y":{"datum":225,"type":"quantitative","axis":null},"y2":{"datum":-230.4}}},
  {"data":{"name":"ml"},"mark":{"type":"line","strokeWidth":1,"interpolate":"monotone"},
   "encoding":{
    "x":{"field":"i","type":"quantitative","axis":null},
    "y":{"field":"v","type":"quantitative","axis":null},
    "color":{"field":"s","type":"nominal","scale":{"domain":["DIFF","DEA"],"range":["#e8e8e8","#dcdc78"]},"legend":null}
   }},
  {"data":{"name":"months"},"mark":{"type":"text","align":"center","baseline":"alphabetic","fontSize":13,"color":"#c8c8c8"},
   "encoding":{"x":{"field":"i","type":"quantitative","axis":null},"y":{"datum":-261.5,"type":"quantitative","axis":null},"text":{"field":"d","type":"nominal"}}},
  {"data":{"values":[{}]},"mark":{"type":"text","text":"MACD(12,26,9)","align":"left","baseline":"middle","fontSize":12,"color":"#d8d868"},
   "encoding":{"x":{"datum":0.55,"type":"quantitative","axis":null},"y":{"datum":203.8,"type":"quantitative","axis":null}}},
  {"data":{"values":[{}]},"mark":{"type":"text","text":"DIFF","align":"left","baseline":"middle","fontSize":12,"color":"#d8d8d8"},
   "encoding":{"x":{"datum":18.97,"type":"quantitative","axis":null},"y":{"datum":203.8,"type":"quantitative","axis":null}}},
  {"data":{"values":[{}]},"mark":{"type":"text","text":"-220.48","align":"left","baseline":"middle","fontSize":12,"color":"#d8d8d8"},
   "encoding":{"x":{"datum":26.26,"type":"quantitative","axis":null},"y":{"datum":203.8,"type":"quantitative","axis":null}}},
  {"data":{"values":[{}]},"mark":{"type":"text","text":"DEA","align":"left","baseline":"middle","fontSize":12,"color":"#d8d868"},
   "encoding":{"x":{"datum":38.12,"type":"quantitative","axis":null},"y":{"datum":203.8,"type":"quantitative","axis":null}}},
  {"data":{"values":[{}]},"mark":{"type":"text","text":"-185.37","align":"left","baseline":"middle","fontSize":12,"color":"#d8d868"},
   "encoding":{"x":{"datum":45.41,"type":"quantitative","axis":null},"y":{"datum":203.8,"type":"quantitative","axis":null}}},
  {"data":{"values":[{}]},"mark":{"type":"text","text":"-70.22","align":"left","baseline":"middle","fontSize":12,"color":"#d8d8d8"},
   "encoding":{"x":{"datum":60.0,"type":"quantitative","axis":null},"y":{"datum":203.8,"type":"quantitative","axis":null}}}
 ]
}
]
}
